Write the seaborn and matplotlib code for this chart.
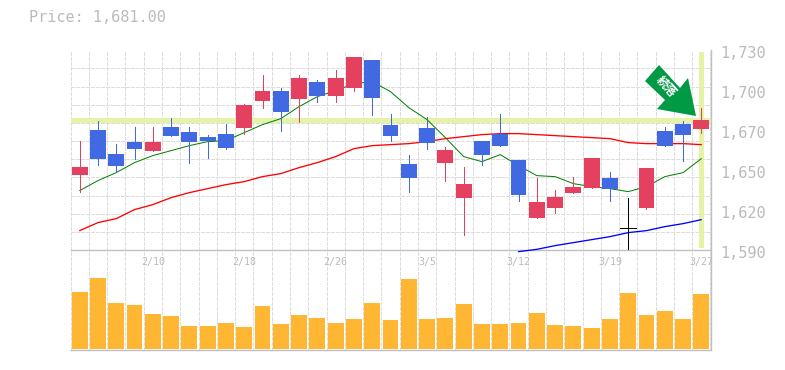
# 日足チャート (ローソク足 + 移動平均 + 出来高)
import numpy as np
import pandas as pd
import seaborn as sns
import matplotlib
matplotlib.use("Agg")
import matplotlib.pyplot as plt
from matplotlib.patches import Polygon
from matplotlib.transforms import ScaledTranslation

# データ
price_text = "Price: 1,681.00"
current_price = 1681
date_pos = [4, 9, 14, 19, 24, 29, 34]
date_labels = ["2/10", "2/18", "2/26", "3/5", "3/12", "3/19", "3/27"]
y_labels = ["1,590", "1,620", "1,650", "1,670", "1,700", "1,730"]

kinds = list("rbbbrbbbbrrbrbrrbbbbrrbbbrrrrbkrbbr")
high = [1666.7, 1680.7, 1664.6, 1676.5, 1676.5, 1682.8, 1676.5, 1670.9, 1678.6, 1692.6,
        1712.9, 1703.8, 1712.9, 1709.4, 1716.4, 1725.5, 1723.4, 1685.6, 1656.9, 1683.5,
        1662.5, 1648.5, 1666.7, 1685.6, 1653.4, 1640.8, 1632.4, 1641.5, 1654.8, 1645.0,
        1626.8, 1647.8, 1676.5, 1680.7, 1689.8]
body_top = [1648.5, 1674.4, 1657.6, 1666.0, 1666.0, 1676.5, 1673.0, 1669.5, 1671.6, 1691.9,
            1701.7, 1701.7, 1710.8, 1708.0, 1710.8, 1725.5, 1723.4, 1677.9, 1650.6, 1675.8,
            1660.4, 1636.6, 1666.7, 1671.6, 1653.4, 1624.0, 1627.5, 1634.5, 1654.8, 1640.8,
            1605.8, 1647.8, 1673.7, 1678.6, 1681.4]
body_bottom = [1642.9, 1654.1, 1649.2, 1661.1, 1659.7, 1670.2, 1666.0, 1666.7, 1661.8, 1675.8,
               1694.7, 1687.0, 1696.1, 1698.2, 1698.2, 1703.8, 1696.8, 1670.2, 1640.8, 1665.3,
               1651.3, 1626.8, 1656.9, 1663.2, 1628.9, 1612.8, 1619.8, 1630.3, 1633.8, 1633.1,
               1605.8, 1619.8, 1663.2, 1670.9, 1675.1]
low = [1631.0, 1649.9, 1645.0, 1654.1, 1659.7, 1670.2, 1651.3, 1654.8, 1661.1, 1671.6,
       1689.8, 1673.7, 1680.0, 1694.0, 1694.0, 1701.7, 1684.9, 1666.7, 1631.0, 1661.1,
       1638.7, 1600.9, 1649.9, 1663.2, 1624.7, 1612.8, 1616.3, 1630.3, 1633.8, 1624.7,
       1588.3, 1619.1, 1663.2, 1652.7, 1672.3]

ma_short = [1631.7, 1638.7, 1644.3, 1651.3, 1656.2, 1659.7, 1663.2, 1666.0, 1666.7, 1672.3,
            1677.9, 1682.1, 1690.5, 1697.5, 1701.7, 1706.6, 1708.0, 1701.0, 1689.8, 1681.4,
            1668.8, 1655.5, 1652.0, 1656.9, 1649.2, 1642.2, 1641.5, 1636.6, 1634.5, 1633.1,
            1631.0, 1634.5, 1641.5, 1644.3, 1654.1]
ma_mid = [1603.7, 1609.3, 1612.1, 1618.4, 1621.9, 1626.8, 1630.3, 1633.1, 1635.9, 1638.0,
          1641.5, 1643.6, 1647.8, 1651.3, 1655.5, 1661.1, 1663.2, 1663.9, 1664.6, 1666.0,
          1668.1, 1669.5, 1670.9, 1671.6, 1671.6, 1670.9, 1670.2, 1669.5, 1668.8, 1668.1,
          1665.3, 1664.6, 1664.6, 1664.6, 1663.9]
ma_long = [np.nan] * 24 + [1589.0, 1590.6, 1593.2, 1595.3, 1597.4, 1599.5, 1602.3, 1603.7,
                           1606.5, 1608.6, 1611.4]

volume = [57.3, 71.3, 46.3, 44.3, 35.3, 33.3, 23.3, 23.3, 26.3, 22.3, 43.3, 25.3, 34.3, 31.3,
          26.3, 30.3, 46.3, 29.3, 70.3, 30.3, 31.3, 45.3, 25.3, 25.3, 26.3, 36.3, 24.3, 23.3,
          21.3, 30.3, 56.3, 34.3, 38.3, 30.3, 55.3]

W, H = 785, 370
RED, BLUE, ORANGE = "#E4405F", "#4169E1", "#FFB733"
GRID, FRAME, TEXT = "#DDDDDD", "#C0C0C0", "#BBBBBB"
MARK = "#E4F3A6"
PX = 0.72  # 1ピクセルの線幅
colors = {"r": RED, "b": BLUE, "k": "black"}
dash = (0, (3, 2))
bar_w = 16 / 18.286

sns.set_style("white")
plt.rcParams["font.family"] = ["DejaVu Sans Mono", "Noto Sans CJK JP"]

df = pd.DataFrame({"i": np.arange(len(high)), "kind": kinds, "high": high, "low": low,
                   "top": body_top, "bottom": body_bottom, "ma_short": ma_short,
                   "ma_mid": ma_mid, "ma_long": ma_long, "volume": volume})

fig = plt.figure(figsize=(W / 100, H / 100), dpi=100, facecolor="white")
ax_vol = fig.add_axes([70.5 / W, 1 - 350.2 / H, 640 / W, 100 / H])
ax = fig.add_axes([70.5 / W, 1 - 250.2 / H, 640 / W, 200 / H], facecolor="none")

# 出来高
sns.barplot(data=df, x="i", y="volume", color=ORANGE, saturation=1, width=bar_w,
            linewidth=0, antialiased=False, zorder=3, ax=ax_vol)
ax_vol.set_xlim(-0.5, 34.5)
ax_vol.set_ylim(-1.0, 99)
ax_vol.set_xlabel("")
ax_vol.set_ylabel("")
ax_vol.set_yticks([])
ax_vol.set_xticks([])
ax_vol.set_xticks(np.arange(-0.5, 35), minor=True)
ax_vol.tick_params(which="both", length=0)
ax_vol.grid(which="minor", axis="x", color=GRID, lw=PX, ls=dash, antialiased=False, zorder=0)
ax_vol.set_axisbelow(True)
for s in ["left", "top"]:
    ax_vol.spines[s].set_visible(False)
for s in ["right", "bottom"]:
    ax_vol.spines[s].set_color(FRAME)
    ax_vol.spines[s].set_linewidth(1.0)

# 現在値のライン
ax.axhline(current_price, color=MARK, lw=2.2, zorder=1.5, solid_capstyle="butt", antialiased=False)
ax.vlines(34, 1592, 1729, color=MARK, lw=2.2, zorder=1.5, antialiased=False)

# 移動平均
sns.lineplot(data=df, x="i", y="ma_short", color="#008000", linewidth=PX, ax=ax, zorder=4,
             errorbar=None)
sns.lineplot(data=df, x="i", y="ma_mid", color="#FF0000", linewidth=0.95, ax=ax, zorder=4,
             errorbar=None)
line_long = sns.lineplot(data=df, x="i", y="ma_long", color="#0000FF", linewidth=0.95, ax=ax,
                         zorder=4, errorbar=None).lines[-1]
line_long.set_clip_on(False)

# ローソク足
for kind, group in df.groupby("kind"):
    c = colors[kind]
    ax.vlines(group["i"], group["low"], group["high"], color=c, lw=PX, zorder=5,
              antialiased=False)
    if kind == "k":
        ax.hlines(group["top"], group["i"] - bar_w / 2, group["i"] + bar_w / 2, color=c,
                  lw=PX, zorder=5, antialiased=False)
    else:
        ax.bar(group["i"], group["top"] - group["bottom"], bottom=group["bottom"], width=bar_w,
               color=c, linewidth=0, zorder=5, antialiased=False)

ax.set_xlim(-0.5, 34.5)
ax.set_ylim(1590, 1730)
ax.set_xlabel("")
ax.set_ylabel("")
ax.set_xticks(date_pos)
ax.set_xticklabels(date_labels, fontsize=7.2, color=TEXT)
ax.set_xticks(np.arange(-0.5, 35), minor=True)
ax.yaxis.tick_right()
ax.set_yticks(np.linspace(1590, 1730, 6))
ax.set_yticklabels(y_labels, fontsize=11, color=TEXT)
ax.set_yticks(np.linspace(1590, 1730, 12), minor=True)
ax.tick_params(axis="x", which="major", length=0, pad=5)
ax.tick_params(axis="y", which="major", length=0, pad=7)
ax.tick_params(which="minor", length=0)
ax.grid(which="minor", color=GRID, lw=PX, ls=dash, antialiased=False, zorder=0)
ax.grid(which="major", visible=False)
ax.set_axisbelow(True)
# 価格ラベルを少し下げる
for label in ax.get_yticklabels():
    label.set_transform(label.get_transform() + ScaledTranslation(0, -2 / 100, fig.dpi_scale_trans))
for s in ["left", "top"]:
    ax.spines[s].set_visible(False)
for s in ["right", "bottom"]:
    ax.spines[s].set_color(FRAME)
    ax.spines[s].set_linewidth(1.0)

# 矢印の注記
arrow_px = [(659, 65), (645, 81), (665, 100), (657, 109), (696, 116), (688, 78), (680, 88)]
fig.add_artist(Polygon([(x / W, 1 - y / H) for x, y in arrow_px], closed=True,
                       facecolor="#009944", edgecolor="none", transform=fig.transFigure,
                       zorder=6))
fig.text(666.5 / W, 1 - 87 / H, "続落", color="white", fontsize=8.5, fontweight="bold",
         family=["Noto Sans CJK JP", "DejaVu Sans"], rotation=-48, ha="center", va="center",
         zorder=7)

fig.text(29 / W, 1 - 18 / H, price_text, color=TEXT, fontsize=11, ha="left", va="center")

fig.savefig("out.png", dpi=100)
